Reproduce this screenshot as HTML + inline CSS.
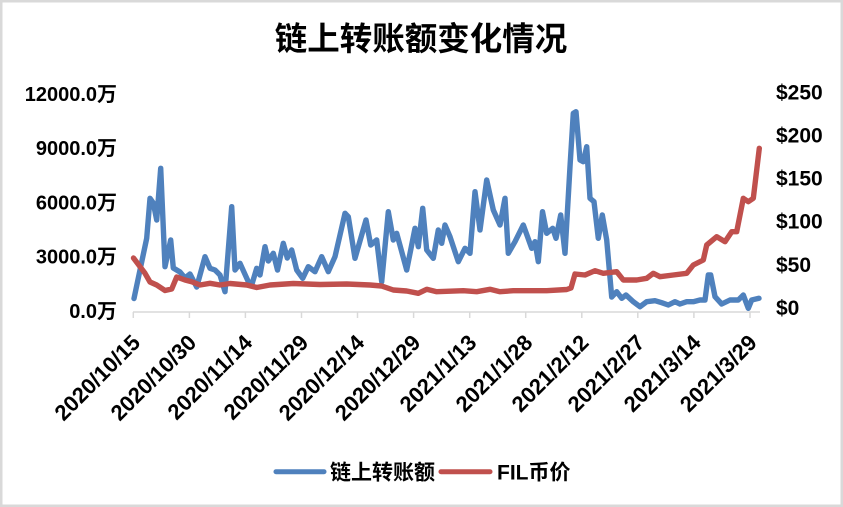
<!DOCTYPE html>
<html>
<head>
<meta charset="utf-8">
<style>
  html, body { margin: 0; padding: 0; background: #ffffff; }
  body { width: 843px; height: 507px; overflow: hidden; }
  svg { display: block; }
  text { font-family: "Liberation Sans", "Noto Sans CJK SC", sans-serif; font-weight: bold; fill: #000; }
</style>
</head>
<body>
<svg width="843" height="507" viewBox="0 0 843 507" xmlns="http://www.w3.org/2000/svg">
  <rect x="0" y="0" width="843" height="507" fill="#ffffff"/>
  <rect x="1.25" y="1.25" width="840.5" height="504.5" fill="none" stroke="#d9d9d9" stroke-width="2.5"/>

  <!-- Title -->
  <text x="421" y="50" font-size="32.5" text-anchor="middle">链上转账额变化情况</text>

  <!-- Left axis labels -->
  <g font-size="20" text-anchor="end">
    <text x="117" y="318">0.0万</text>
    <text x="117" y="263.7">3000.0万</text>
    <text x="117" y="209.4">6000.0万</text>
    <text x="117" y="155.1">9000.0万</text>
    <text x="117" y="100.8">12000.0万</text>
  </g>

  <!-- Right axis labels -->
  <g font-size="21" text-anchor="start">
    <text x="776" y="315">$0</text>
    <text x="776" y="271.9">$50</text>
    <text x="776" y="228.7">$100</text>
    <text x="776" y="185.6">$150</text>
    <text x="776" y="142.4">$200</text>
    <text x="776" y="99.3">$250</text>
  </g>

  <!-- X axis -->
  <line x1="133" y1="312" x2="760" y2="312" stroke="#d9d9d9" stroke-width="1.5"/>
  <g stroke="#d9d9d9" stroke-width="1.5">
    <line x1="133.3" y1="312" x2="133.3" y2="318"/>
    <line x1="189.4" y1="312" x2="189.4" y2="318"/>
    <line x1="245.4" y1="312" x2="245.4" y2="318"/>
    <line x1="301.5" y1="312" x2="301.5" y2="318"/>
    <line x1="357.5" y1="312" x2="357.5" y2="318"/>
    <line x1="413.6" y1="312" x2="413.6" y2="318"/>
    <line x1="469.7" y1="312" x2="469.7" y2="318"/>
    <line x1="525.7" y1="312" x2="525.7" y2="318"/>
    <line x1="581.8" y1="312" x2="581.8" y2="318"/>
    <line x1="637.8" y1="312" x2="637.8" y2="318"/>
    <line x1="693.9" y1="312" x2="693.9" y2="318"/>
    <line x1="750" y1="312" x2="750" y2="318"/>
  </g>

  <!-- X labels -->
  <g font-size="22" text-anchor="end">
    <text transform="translate(141.5,344) rotate(-45)">2020/10/15</text>
    <text transform="translate(197.6,344) rotate(-45)">2020/10/30</text>
    <text transform="translate(253.6,344) rotate(-45)">2020/11/14</text>
    <text transform="translate(309.7,344) rotate(-45)">2020/11/29</text>
    <text transform="translate(365.7,344) rotate(-45)">2020/12/14</text>
    <text transform="translate(421.8,344) rotate(-45)">2020/12/29</text>
    <text transform="translate(477.9,344) rotate(-45)">2021/1/13</text>
    <text transform="translate(533.9,344) rotate(-45)">2021/1/28</text>
    <text transform="translate(590,344) rotate(-45)">2021/2/12</text>
    <text transform="translate(646,344) rotate(-45)">2021/2/27</text>
    <text transform="translate(702.1,344) rotate(-45)">2021/3/14</text>
    <text transform="translate(758.2,344) rotate(-45)">2021/3/29</text>
  </g>

  <!-- Blue series -->
  <polyline fill="none" stroke="#4F81BD" stroke-width="5.4" stroke-linejoin="round" stroke-linecap="round"
    points="134,298.5 140,270 146.7,238.3 150,198.3 153.3,203 156.7,220 160.7,168.3 165,266.7 170.7,240 173.3,268 180,272 185,278 190,274 196.7,287 205,256.7 210,268.3 215,270 220,275 225,291.7 231.7,206.7 235,270 240,263.3 248.3,281.7 251.7,285 256.7,268.3 260,275 265,246.7 268.3,261 273.3,253.3 277.5,270 283.3,243.3 287.3,258 291.7,250 296.7,270 302.7,278.3 308.3,266.7 315,271.7 321.7,256.7 328.3,271.7 335,256.7 345,213.3 348.3,216.7 355,258.3 366,220 370.7,245 376.7,240 381.7,281.7 388.3,211.7 393.3,240 396.7,233.3 406.7,270 415,228.3 418.3,246.7 422.7,208.3 426.7,250 433.3,258.3 438.3,230 441.7,243.3 445,225 450,236.7 458.3,261.7 465,248.3 470,253.3 475,191.7 480,230 486.7,180 493.3,210 500,225 505,198.3 508.3,253.3 515,241.7 523.3,225 531.7,248.3 535,241.7 538.3,261.7 542.5,211.7 546.7,233.3 552.7,228.3 556,238.3 560.7,215 565,253.3 570,166.7 573.3,113.3 576,111.7 580,160 583.3,161.7 586.7,146.7 590,198.3 594,201.7 598.3,238.3 602.3,215 606.7,240 611.7,297 616.7,291.7 621.7,298.3 626,295 633.3,301.7 640,306.7 646.7,301.7 655,300.7 661.7,302.7 668.3,305 675,301.7 680,304 686.7,301.7 693.3,301.7 700,300 705,300 708.3,275 710.7,275 715,296.7 721.7,304 730,300 738.3,300 743.3,295 748.3,308.3 751.7,300 759,298.3"/>

  <!-- Red series -->
  <polyline fill="none" stroke="#C0504D" stroke-width="5.4" stroke-linejoin="round" stroke-linecap="round"
    points="133.5,258 145,273.3 150,282 156.7,285 165,290.5 171.7,289 176.7,277 185,280 191.7,281.7 200,285 210,283.3 220,285 230,283.5 246.7,285 256.7,287.5 270,285 293.3,283.5 320,284.5 346.7,284 370,285 381.7,286 393.3,290 406.7,291 418.3,293.3 426.7,289.3 436.7,291.7 463.3,290.7 476.7,291.7 490,289.3 500,291.7 513.3,290.7 546.7,290.7 566.7,289.5 571,288 575,274 585,275 595,270.7 603.3,273.3 616.7,271.7 623.3,280 636.7,280 646.7,278.3 653.3,273.3 660,276.7 673.3,275 686.7,273.3 693.3,265 703.3,260 706.7,245 716.7,236.7 725,241.7 731.7,231.7 736.7,231.7 743.3,198.3 748.3,201.7 753.3,198.3 759.3,148.3"/>

  <!-- Legend -->
  <line x1="276" y1="471.7" x2="324" y2="471.7" stroke="#4F81BD" stroke-width="5" stroke-linecap="round"/>
  <text x="330" y="479.5" font-size="21">链上转账额</text>
  <line x1="441" y1="471.7" x2="490" y2="471.7" stroke="#C0504D" stroke-width="5" stroke-linecap="round"/>
  <text x="497" y="479.5" font-size="21">FIL币价</text>
</svg>
</body>
</html>
